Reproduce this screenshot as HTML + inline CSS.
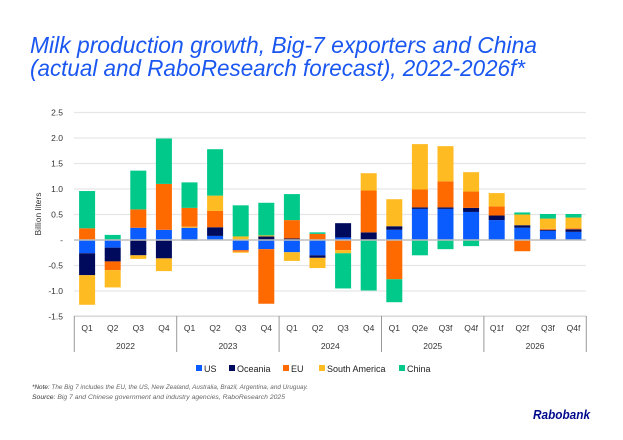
<!DOCTYPE html>
<html><head><meta charset="utf-8"><style>
html,body{margin:0;padding:0;background:#fff}
svg{display:block;font-family:"Liberation Sans",sans-serif}
</style></head><body>
<svg width="623" height="440" viewBox="0 0 623 440" xmlns="http://www.w3.org/2000/svg">
<text x="30" y="53" font-size="23" font-style="italic" fill="#1a56f0" textLength="507" lengthAdjust="spacingAndGlyphs">Milk production growth, Big-7 exporters and China</text>
<text x="30" y="76" font-size="23" font-style="italic" fill="#1a56f0" textLength="495" lengthAdjust="spacingAndGlyphs">(actual and RaboResearch forecast), 2022-2026f*</text>
<g id="grid" stroke="#e6e6e6" stroke-width="1.2"></g>
<g id="bars"></g>
<g id="ax" font-size="8.5" fill="#333"></g>
<text transform="translate(41,214) rotate(-90)" font-size="8.5" fill="#333" text-anchor="middle">Billion liters</text>
<g font-size="9" fill="#222">
<rect x="196" y="365" width="6" height="6" fill="#0a5cff"/><text x="204" y="372">US</text>
<rect x="229" y="365" width="6" height="6" fill="#000a5c"/><text x="237" y="372">Oceania</text>
<rect x="283" y="365" width="6" height="6" fill="#ff6a00"/><text x="291" y="372">EU</text>
<rect x="319" y="365" width="6" height="6" fill="#ffbb22"/><text x="327" y="372">South America</text>
<rect x="399" y="365" width="6" height="6" fill="#00c98a"/><text x="407" y="372">China</text>
</g>
<g font-size="6.3" font-style="italic" fill="#666">
<text x="32" y="389" textLength="276" lengthAdjust="spacingAndGlyphs"><tspan fill="#333">*Note:</tspan> The Big 7 includes the EU, the US, New Zealand, Australia, Brazil, Argentina, and Uruguay.</text>
<text x="32" y="399" textLength="253" lengthAdjust="spacingAndGlyphs"><tspan fill="#333">Source:</tspan> Big 7 and Chinese government and industry agencies, RaboResearch 2025</text>
</g>
<text x="533" y="419" font-size="13" font-weight="bold" font-style="italic" fill="#000a8c" textLength="57" lengthAdjust="spacingAndGlyphs">Rabobank</text>
</svg>
<script>
const ns="http://www.w3.org/2000/svg";
const Z=240,S=51,X0=74.3,W=25.6;
const C={u:"#0a5cff",o:"#000a5c",e:"#ff6a00",s:"#ffbb22",c:"#00c98a"};
function el(p,t,a,txt){const e=document.createElementNS(ns,t);for(const k in a)e.setAttribute(k,a[k]);if(txt!=null)e.textContent=txt;p.appendChild(e);return e;}
const g=document.getElementById("grid"),b=document.getElementById("bars"),ax=document.getElementById("ax");
const labs=["2.5","2.0","1.5","1.0","0.5","-","-0.5","-1.0","-1.5"];
for(let i=0;i<9;i++){const v=2.5-i*0.5,y=Z-v*S;
 if(v!==0)el(g,"line",{x1:74,x2:586,y1:y,y2:y,stroke:"#e6e6e6"});
 el(ax,"text",{x:63,y:y+3,"text-anchor":"end"},labs[i]);}
const D=[
[["e",0,.23],["c",.23,.96],["u",0,-.26],["o",-.26,-.69],["s",-.69,-1.27]],
[["c",0,.1],["u",0,-.15],["o",-.15,-.42],["e",-.42,-.59],["s",-.59,-.93]],
[["u",0,.24],["e",.24,.6],["c",.6,1.36],["o",0,-.3],["s",-.3,-.37]],
[["u",0,.2],["e",.2,1.1],["c",1.1,1.99],["o",0,-.36],["s",-.36,-.61]],
[["u",0,.24],["s",.24,.26],["e",.26,.63],["c",.63,1.13],["o",0,-.01]],
[["u",0,.08],["o",.08,.25],["e",.25,.57],["s",.57,.87],["c",.87,1.78]],
[["s",0,.07],["c",.07,.68],["u",0,-.2],["e",-.2,-.23],["s",-.23,-.25]],
[["o",0,.07],["s",.07,.09],["c",.09,.73],["u",0,-.18],["e",-.18,-1.25]],
[["o",0,.03],["e",.03,.39],["c",.39,.9],["u",0,-.24],["s",-.24,-.41]],
[["e",0,.12],["c",.12,.15],["u",0,-.3],["o",-.3,-.35],["s",-.35,-.55]],
[["u",0,.05],["o",.05,.33],["e",0,-.2],["s",-.2,-.26],["c",-.26,-.95]],
[["o",0,.15],["e",.15,.97],["s",.97,1.31],["c",0,-.99]],
[["u",0,.2],["o",.2,.27],["s",.27,.8],["e",0,-.77],["c",-.77,-1.22]],
[["u",0,.61],["o",.61,.64],["e",.64,.99],["s",.99,1.88],["c",0,-.3]],
[["u",0,.61],["o",.61,.64],["e",.64,1.15],["s",1.15,1.84],["c",0,-.18]],
[["u",0,.55],["o",.55,.63],["e",.63,.95],["s",.95,1.33],["c",0,-.12]],
[["u",0,.39],["o",.39,.48],["e",.48,.66],["s",.66,.92]],
[["u",0,.24],["o",.24,.29],["s",.29,.5],["c",.5,.54],["e",0,-.22]],
[["u",0,.18],["o",.18,.2],["e",.2,.22],["s",.22,.42],["c",.42,.51]],
[["u",0,.16],["o",.16,.21],["e",.21,.23],["s",.23,.44],["c",.44,.51]]];
const Q=["Q1","Q2","Q3","Q4","Q1","Q2","Q3","Q4","Q1","Q2","Q3","Q4","Q1","Q2e","Q3f","Q4f","Q1f","Q2f","Q3f","Q4f"];
D.forEach((segs,i)=>{const cx=X0+(i+.5)*W;
 segs.forEach(([k,a,c])=>{const y1=Z-Math.max(a,c)*S,y2=Z-Math.min(a,c)*S;
  el(b,"rect",{x:cx-8,y:y1,width:16,height:Math.max(y2-y1,.6),fill:C[k]});});
 el(ax,"text",{x:cx,y:331,"text-anchor":"middle"},Q[i]);});
el(b,"line",{x1:74,x2:586,y1:Z,y2:Z,stroke:"#bdbdbd","stroke-width":1.6});
el(ax,"line",{x1:74,x2:586,y1:316,y2:316,stroke:"#d0d0d0"});
["2022","2023","2024","2025","2026"].forEach((yr,i)=>{el(ax,"text",{x:X0+(i+.5)*4*W,y:349,"text-anchor":"middle"},yr);});
for(let i=0;i<=5;i++){const x=X0+i*4*W;el(ax,"line",{x1:x,x2:x,y1:316,y2:352,stroke:"#999"});}
</script>
</body></html>
